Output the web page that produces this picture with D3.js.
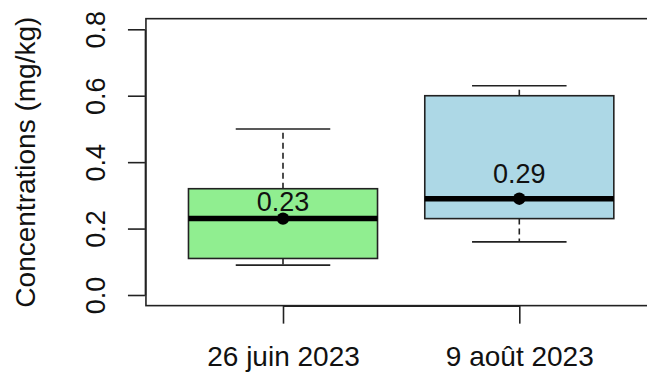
<!DOCTYPE html>
<html>
<head>
<meta charset="utf-8">
<script src="https://cdn.jsdelivr.net/npm/d3@7"></script>
<style>
  html, body { margin: 0; padding: 0; background: #fff; }
  svg { display: block; font-family: "Liberation Sans", Arial, Helvetica, sans-serif; }
</style>
</head>
<body>
<svg id="chart" width="647" height="373"></svg>
<script>
// Sampling dates and the five-number summaries of each box
const categories = ["26 juin 2023", "9 août 2023"];
const whiskerLow = [0.09, 0.16];
const lowerQuartile = [0.11, 0.23];
const medians = [0.23, 0.29];
const upperQuartile = [0.32, 0.60];
const whiskerHigh = [0.50, 0.63];
const means = [0.23, 0.29];
const yTicks = [0, 0.2, 0.4, 0.6, 0.8];

// Presentation settings
const boxFills = ["#90EE90", "#ADD8E6"];
const labelLift = [8, 16];          // px between median line and its label baseline
const ink = "#111";
const boxHalf = 0.4, capHalf = 0.2;  // in category units

const svg = d3.select("#chart");

const positions = categories.map((_, i) => i + 1);
const x = d3.scaleLinear().domain([1, 2]).range([283, 519.3]);
const y = d3.scaleLinear().domain([0, 0.8]).range([295, 29.3]);

// plot region frame (range padded by 4% like the default axis style)
const xPad = 0.58, yPadLo = -0.032, yPadHi = 0.832;
svg.append("rect")
  .attr("x", x(1 - xPad)).attr("y", y(yPadHi))
  .attr("width", x(2 + xPad) - x(1 - xPad))
  .attr("height", y(yPadLo) - y(yPadHi))
  .attr("fill", "none").attr("stroke", "#222").attr("stroke-width", 1.6);

const boxes = svg.append("g").selectAll("g.box")
  .data(categories.map((c, i) => ({
    c, pos: positions[i], lo: whiskerLow[i], q1: lowerQuartile[i], med: medians[i],
    q3: upperQuartile[i], hi: whiskerHigh[i], mean: means[i], fill: boxFills[i], lift: labelLift[i]
  })))
  .join("g").attr("class", "box");

// dashed whisker stems
boxes.append("line")
  .attr("x1", d => x(d.pos)).attr("x2", d => x(d.pos))
  .attr("y1", d => y(d.q3)).attr("y2", d => y(d.hi))
  .attr("stroke", "#222").attr("stroke-width", 1.6).attr("stroke-dasharray", "6,4");
boxes.append("line")
  .attr("x1", d => x(d.pos)).attr("x2", d => x(d.pos))
  .attr("y1", d => y(d.q1)).attr("y2", d => y(d.lo))
  .attr("stroke", "#222").attr("stroke-width", 1.6).attr("stroke-dasharray", "6,4");

// whisker caps
["hi", "lo"].forEach(k => {
  boxes.append("line")
    .attr("x1", d => x(d.pos - capHalf)).attr("x2", d => x(d.pos + capHalf))
    .attr("y1", d => y(d[k])).attr("y2", d => y(d[k]))
    .attr("stroke", "#222").attr("stroke-width", 1.6);
});

// interquartile boxes
boxes.append("rect")
  .attr("x", d => x(d.pos - boxHalf))
  .attr("width", d => x(d.pos + boxHalf) - x(d.pos - boxHalf))
  .attr("y", d => y(d.q3))
  .attr("height", d => y(d.q1) - y(d.q3))
  .attr("fill", d => d.fill).attr("stroke", "#222").attr("stroke-width", 1.6);

// medians
boxes.append("line")
  .attr("x1", d => x(d.pos - boxHalf)).attr("x2", d => x(d.pos + boxHalf))
  .attr("y1", d => y(d.med)).attr("y2", d => y(d.med))
  .attr("stroke", "#000").attr("stroke-width", 5.5);

// mean points
boxes.append("circle")
  .attr("cx", d => x(d.pos)).attr("cy", d => y(d.mean)).attr("r", 6.2)
  .attr("fill", "#000");

// median value labels
boxes.append("text")
  .attr("x", d => x(d.pos)).attr("y", d => y(d.med) - d.lift)
  .attr("text-anchor", "middle").attr("font-size", 27).attr("fill", ink)
  .text(d => d.med.toFixed(2));

// y axis with labels parallel to the axis
const yAxis = svg.append("g")
  .attr("transform", `translate(${x(1 - xPad) - 1},0)`)
  .call(d3.axisLeft(y).tickValues(yTicks).tickSize(17).tickSizeOuter(0)
    .tickFormat(d => d.toFixed(1)));
yAxis.select(".domain").attr("stroke", "#222").attr("stroke-width", 1.6);
yAxis.selectAll(".tick line").attr("stroke", "#222").attr("stroke-width", 1.6);
yAxis.selectAll(".tick text")
  .attr("transform", "rotate(-90)")
  .attr("x", 0).attr("y", -40).attr("dy", null)
  .attr("text-anchor", "middle")
  .attr("font-size", 27).attr("font-family", null).attr("fill", ink);

// x axis
const xAxis = svg.append("g")
  .attr("transform", `translate(0,${y(yPadLo)})`)
  .call(d3.axisBottom(x).tickValues(positions).tickSize(18).tickSizeOuter(0)
    .tickFormat((d, i) => categories[i]));
xAxis.select(".domain").attr("stroke", "#222").attr("stroke-width", 1.6);
xAxis.selectAll(".tick line").attr("stroke", "#222").attr("stroke-width", 1.6);
xAxis.selectAll(".tick text")
  .attr("y", 60.5).attr("dy", null)
  .attr("font-size", 28).attr("font-family", null).attr("fill", ink);

// y axis title
svg.append("text")
  .attr("transform", `translate(35,${(y(yPadLo) + y(yPadHi)) / 2}) rotate(-90)`)
  .attr("text-anchor", "middle").attr("font-size", 28).attr("fill", ink)
  .text("Concentrations (mg/kg)");
</script>
</body>
</html>
